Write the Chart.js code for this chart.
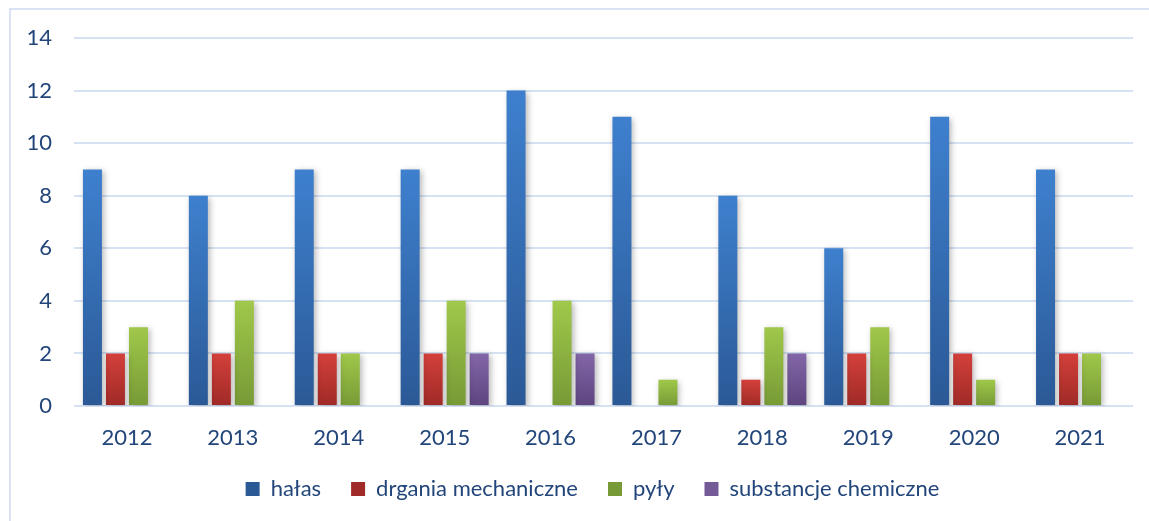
<!DOCTYPE html>
<html>
<head>
<meta charset="utf-8">
<script src="https://cdn.jsdelivr.net/npm/chart.js@4"></script>
<style>
  html, body { margin: 0; padding: 0; background: #fff; overflow: hidden; }
  #frame { position: absolute; left: 9px; top: 8px; width: 1300px; height: 700px; border: 2px solid #d9e3f3; }
  #wrap { position: absolute; left: 0; top: 0; width: 1149px; height: 521px; }
</style>
</head>
<body>
<div id="frame"></div>
<div id="wrap"><canvas id="chart"></canvas></div>
<script>
const years = ['2012', '2013', '2014', '2015', '2016', '2017', '2018', '2019', '2020', '2021'];
const halas = [9, 8, 9, 9, 12, 11, 8, 6, 11, 9];
const drgania = [2, 2, 2, 2, 0, 0, 1, 2, 2, 2];
const pyly = [3, 4, 2, 4, 4, 1, 3, 3, 1, 2];
const substancje = [0, 0, 0, 2, 2, 0, 2, 0, 0, 0];
const yTicks = [0, 2, 4, 6, 8, 10, 12, 14];

const textColor = '#22457a';
const gridColor = '#d6e2f3';

// per-bar vertical gradient, light at the top and dark at the base
function grad(top, bottom, flat) {
    return function(c) {
        if (c.type !== 'data') return flat;
        const y = c.chart.scales.y;
        if (!y || c.raw == null) return flat;
        const y1 = y.getPixelForValue(c.raw);
        const y0 = y.getPixelForValue(0);
        if (!isFinite(y1) || !isFinite(y0) || y1 === y0) return flat;
        const g = c.chart.ctx.createLinearGradient(0, y1, 0, y0);
        g.addColorStop(0, top);
        g.addColorStop(1, bottom);
        return g;
    };
}

const shadow = {
    id: 'barShadow',
    afterLayout(chart) {
        // legend sits a bit right of the canvas centre
        chart.legend.left += 21;
        chart.legend.right += 21;
    },
    beforeDatasetsDraw(chart) {
        const ctx = chart.ctx;
        ctx.save();
        ctx.shadowColor = 'rgba(0,0,0,0.28)';
        ctx.shadowBlur = 6;
        ctx.shadowOffsetX = 2;
        ctx.shadowOffsetY = 2;
    },
    afterDatasetsDraw(chart) {
        chart.ctx.restore();
    }
};

Chart.defaults.font.family = 'Lato, "Open Sans", sans-serif';
Chart.defaults.font.size = 22;
Chart.defaults.color = textColor;

new Chart(document.getElementById('chart'), {
    type: 'bar',
    data: {
        labels: years,
        datasets: [
            { label: 'hałas', data: halas, backgroundColor: grad('#3e80ce', '#2b5996', '#3a74bf') },
            { label: 'drgania mechaniczne', data: drgania, backgroundColor: grad('#d4403b', '#9f2a27', '#c53a35') },
            { label: 'pyły', data: pyly, backgroundColor: grad('#a0c84a', '#779a36', '#8fb641') },
            { label: 'substancje chemiczne', data: substancje, backgroundColor: grad('#8366a7', '#5d4580', '#755a98') }
        ]
    },
    options: {
        responsive: true,
        maintainAspectRatio: false,
        animation: false,
        layout: { padding: { left: 10, right: 16, top: 38, bottom: 11 } },
        datasets: { bar: { categoryPercentage: 0.869, barPercentage: 0.826, borderWidth: 0 } },
        scales: {
            x: {
                grid: { display: false },
                border: { display: false },
                afterFit: s => { s.height = 42; },
                ticks: { padding: 11, color: textColor }
            },
            y: {
                min: 0,
                max: 14,
                afterBuildTicks: s => { s.ticks = yTicks.map(v => ({ value: v })); },
                afterFit: s => { s.width = 64; },
                grid: { color: gridColor, lineWidth: 2, drawTicks: false },
                border: { display: false },
                ticks: { padding: 22, color: textColor }
            }
        },
        plugins: {
            legend: {
                position: 'bottom',
                labels: { boxWidth: 14, boxHeight: 14, padding: 30, color: textColor }
            },
            tooltip: { enabled: false }
        }
    },
    plugins: [shadow]
});
</script>
</body>
</html>
